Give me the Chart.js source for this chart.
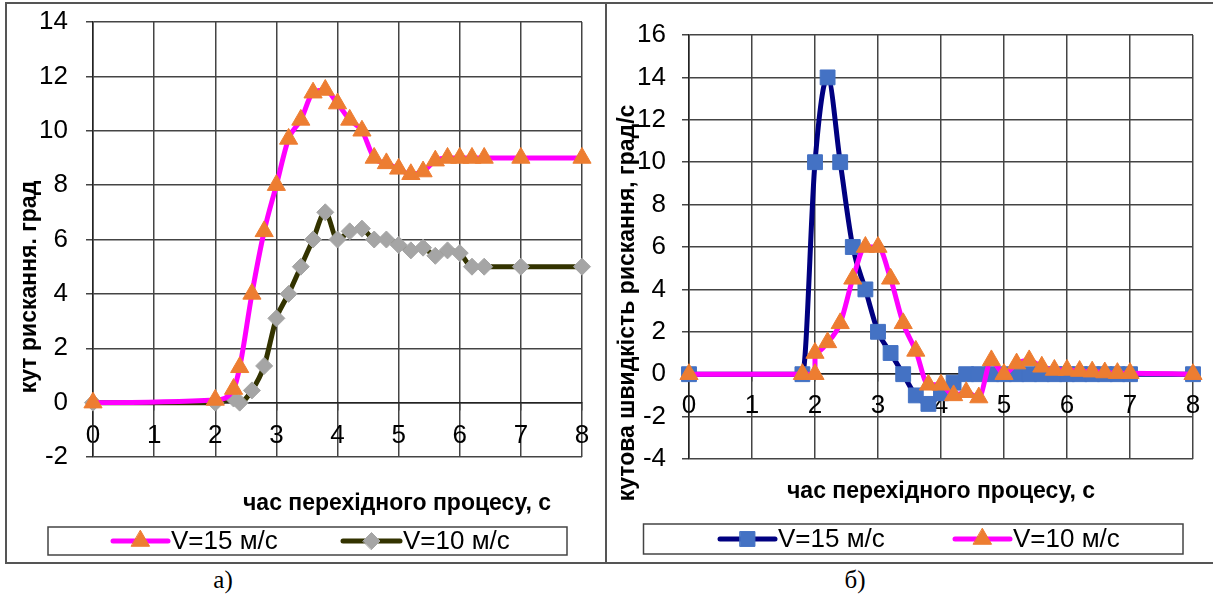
<!DOCTYPE html>
<html>
<head>
<meta charset="utf-8">
<script src="https://cdn.jsdelivr.net/npm/chart.js@4.4.0/dist/chart.umd.min.js"></script>
<style>
  body { margin: 0; background: #fff; width: 1213px; height: 596px; position: relative; overflow: hidden; }
  #frame { position: absolute; left: 5px; top: 2px; width: 1208px; height: 562px; box-sizing: border-box;
           border-top: 2px solid #555; border-left: 2px solid #555; border-bottom: 2px solid #555; }
  #divider { position: absolute; left: 605px; top: 2px; width: 2px; height: 562px; background: #555; }
  canvas { position: absolute; }
  #chartA { left: 8px; top: 5px; }
  #chartB { left: 608px; top: 5px; }
  .cap { position: absolute; top: 566px; width: 60px; text-align: center; line-height: 30px;
         font: 25px "Liberation Serif", "Times New Roman", serif; color: #000; }
</style>
</head>
<body>
<div id="frame"></div>
<div id="divider"></div>
<canvas id="chartA" width="596" height="556"></canvas>
<canvas id="chartB" width="603" height="556"></canvas>
<div class="cap" style="left:193px">а)</div>
<div class="cap" style="left:825px">б)</div>

<script>
// ---- дані: а) кут рискання
const timeA15 = [0, 2, 2.3, 2.4, 2.6, 2.8, 3, 3.2, 3.4, 3.6, 3.8, 4, 4.2, 4.4, 4.6, 4.8, 5, 5.2, 5.4, 5.6, 5.8, 6, 6.2, 6.4, 7, 8];
const angleA15 = [0, 0.1, 0.5, 1.3, 4, 6.3, 8, 9.7, 10.4, 11.4, 11.5, 11, 10.4, 10, 9, 8.8, 8.6, 8.4, 8.5, 8.9, 9, 9, 9, 9, 9, 9];
const timeA10 = [0, 2, 2.3, 2.4, 2.6, 2.8, 3, 3.2, 3.4, 3.6, 3.8, 4, 4.2, 4.4, 4.6, 4.8, 5, 5.2, 5.4, 5.6, 5.8, 6, 6.2, 6.4, 7, 8];
const angleA10 = [0, 0, 0.15, 0, 0.45, 1.35, 3.1, 4, 5, 6, 7, 6, 6.3, 6.4, 6, 6, 5.8, 5.6, 5.7, 5.4, 5.6, 5.5, 5, 5, 5, 5];

// ---- дані: б) кутова швидкість рискання
const timeB15 = [0, 1.8, 2, 2.2, 2.4, 2.6, 2.8, 3, 3.2, 3.4, 3.6, 3.8, 4, 4.2, 4.4, 4.6, 4.8, 5, 5.2, 5.4, 5.6, 5.8, 6, 6.2, 6.4, 6.6, 6.8, 7, 8];
const rateB15 = [0, 0, 10, 14, 10, 6, 4, 2, 1, 0, -1, -1.4, -0.9, -0.4, 0, 0, 0, 0, 0, 0, 0, 0, 0, 0, 0, 0, 0, 0, 0];
const timeB10 = [0, 1.8, 2, 2, 2.2, 2.4, 2.6, 2.8, 3, 3.2, 3.4, 3.6, 3.8, 4, 4.2, 4.4, 4.6, 4.8, 5, 5.2, 5.4, 5.6, 5.8, 6, 6.2, 6.4, 6.6, 6.8, 7, 8];
const rateB10 = [0, 0, 0, 1, 1.5, 2.4, 4.5, 6, 6, 4.5, 2.4, 1.1, -0.5, -0.5, -1, -0.85, -1.1, 0.65, 0, 0.5, 0.65, 0.35, 0.2, 0.2, 0.15, 0.12, 0.08, 0.05, 0.05, 0];

const seriesLabels = ["V=15 м/с", "V=10 м/с"];
const xTitle = "час перехідного процесу, с";
const yTitleA = "кут рискання. град";
const yTitleB = "кутова швидкість рискання, град/с";

const FONT = '"Liberation Sans", Arial, sans-serif';
Chart.defaults.font.family = FONT;
Chart.defaults.color = "#000";

const GRID = "#444";

function toPoints(xs, ys) {
  return xs.map((x, i) => ({ x: x, y: ys[i] }));
}

function makeSeries(label, xs, ys, lineColor, style, radius, markColor, order) {
  return {
    label: label,
    data: toPoints(xs, ys),
    borderColor: lineColor,
    borderWidth: 5,
    pointStyle: style,
    pointRadius: radius,
    pointBackgroundColor: markColor,
    pointBorderColor: markColor,
    pointBorderWidth: 1,
    cubicInterpolationMode: "monotone",
    clip: false,
    order: order
  };
}

// підписи осей та легенда малюються поверх
function decorPlugin(cfg) {
  return {
    id: "decor",
    afterDraw(chart) {
      const ctx = chart.ctx;
      ctx.save();
      ctx.fillStyle = "#000";
      ctx.font = "bold 23px " + FONT;
      ctx.textAlign = "center";
      ctx.textBaseline = "alphabetic";
      ctx.fillText(xTitle, cfg.xTitle[0], cfg.xTitle[1]);
      ctx.save();
      ctx.translate(cfg.yTitle[0], cfg.yTitle[1]);
      ctx.rotate(-Math.PI / 2);
      ctx.fillText(cfg.yText, 0, 0);
      ctx.restore();

      // рамка легенди
      const b = cfg.box;
      ctx.strokeStyle = "#444";
      ctx.lineWidth = 1.5;
      ctx.strokeRect(b[0], b[1], b[2], b[3]);
      const cy = b[1] + b[3] / 2;
      cfg.items.forEach((it, i) => {
        const ds = chart.data.datasets[i];
        ctx.strokeStyle = ds.borderColor;
        ctx.lineWidth = ds.borderWidth;
        ctx.lineCap = "round";
        ctx.beginPath();
        ctx.moveTo(it[0], cy);
        ctx.lineTo(it[1], cy);
        ctx.stroke();
        ctx.fillStyle = ds.pointBackgroundColor;
        ctx.strokeStyle = ds.pointBorderColor;
        ctx.lineWidth = 1;
        Chart.helpers.drawPoint(ctx, { pointStyle: ds.pointStyle, radius: ds.pointRadius, rotation: 0, borderWidth: 1 }, (it[0] + it[1]) / 2, cy);
        ctx.fillStyle = "#000";
        ctx.font = "26px " + FONT;
        ctx.textAlign = "left";
        ctx.textBaseline = "middle";
        ctx.fillText(ds.label, it[1] + 3, cy + 1);
      });
      ctx.restore();
    }
  };
}

function makeScales(yMin, yMax, yWidth, yPad, xPad) {
  return {
    x: {
      type: "linear",
      min: 0,
      max: 8,
      position: { y: 0 },
      ticks: { stepSize: 1, padding: xPad, font: { size: 26 } },
      grid: { color: GRID, lineWidth: 1.5, tickLength: 7 },
      border: { color: "#222", width: 1.5 }
    },
    y: {
      min: yMin,
      max: yMax,
      ticks: { stepSize: 2, padding: yPad, font: { size: 26 } },
      grid: { color: GRID, lineWidth: 1.5, tickLength: 7 },
      border: { color: "#222", width: 1.5 },
      afterFit: s => {
        s.width = yWidth;
        s.paddingTop = 0;
        s.paddingBottom = 0;
      }
    }
  };
}

const baseOpts = {
  responsive: false,
  animation: false,
  devicePixelRatio: 1,
  events: [],
  plugins: { legend: { display: false }, tooltip: { enabled: false } }
};

// а)
new Chart(document.getElementById("chartA"), {
  type: "line",
  data: {
    datasets: [
      makeSeries(seriesLabels[0], timeA15, angleA15, "#FF00FF", "triangle", 10.5, "#ED7D31", 1),
      makeSeries(seriesLabels[1], timeA10, angleA10, "#333300", "rectRot", 8.5, "#A5A5A5", 2)
    ]
  },
  options: Object.assign({}, baseOpts, {
    layout: { padding: { top: 17, right: 22, bottom: 104, left: 0 } },
    scales: makeScales(-2, 14, 85, 18, 11)
  }),
  plugins: [decorPlugin({
    xTitle: [389, 505], yTitle: [28, 282], yText: yTitleA,
    box: [40, 522, 519, 28], items: [[105, 160], [335, 392]]
  })]
});

// б)
new Chart(document.getElementById("chartB"), {
  type: "line",
  data: {
    datasets: [
      makeSeries(seriesLabels[0], timeB15, rateB15, "#000080", "rect", 10.5, "#4472C4", 2),
      makeSeries(seriesLabels[1], timeB10, rateB10, "#FF00FF", "triangle", 10.5, "#ED7D31", 1)
    ]
  },
  options: Object.assign({}, baseOpts, {
    layout: { padding: { top: 30, right: 18, bottom: 102, left: 0 } },
    scales: makeScales(-4, 16, 81, 16, 9)
  }),
  plugins: [decorPlugin({
    xTitle: [333, 493], yTitle: [26, 298], yText: yTitleB,
    box: [35.5, 519, 539.5, 30], items: [[112, 167], [347, 402]]
  })]
});
</script>
</body>
</html>
